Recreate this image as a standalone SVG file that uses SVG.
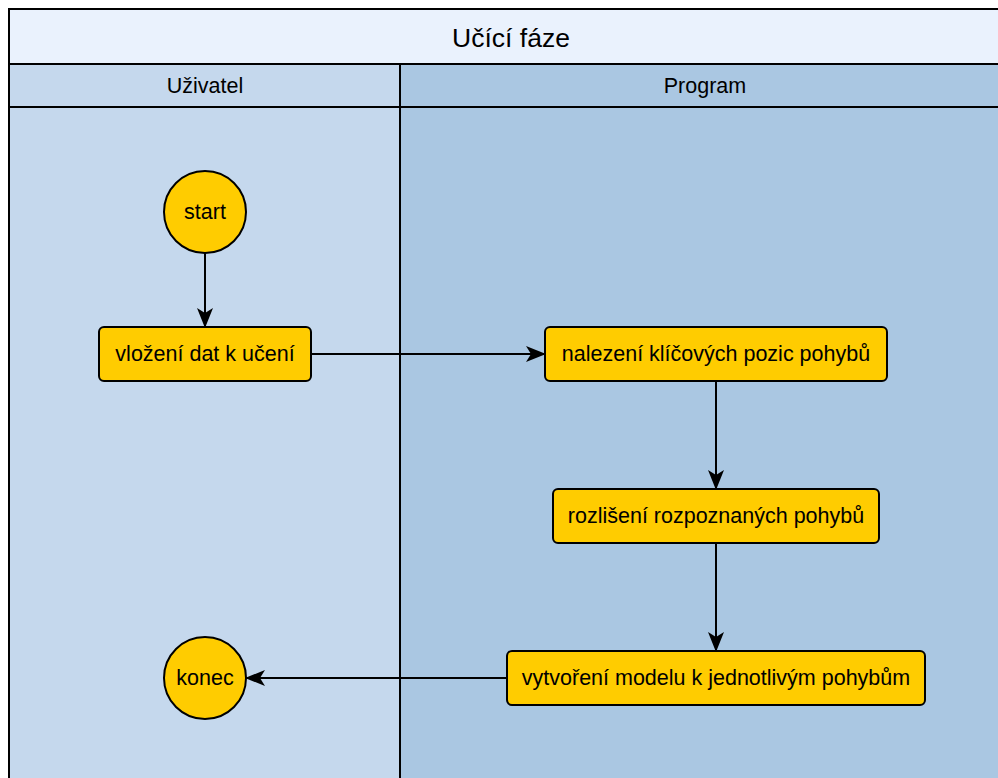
<svg xmlns="http://www.w3.org/2000/svg" width="998" height="778" viewBox="0 0 998 778">
  <style>
    .lane { stroke: #000; stroke-width: 2; }
    .node { fill: #FFCC00; stroke: #000; stroke-width: 2; }
    .lbl { font-family: "Liberation Sans", Arial, sans-serif; fill: #000; text-anchor: middle; dominant-baseline: central; }
    .edge { fill: none; stroke: #000; stroke-width: 2; }
  </style>
  <defs>
    <marker id="arrow" viewBox="0 0 20 16" refX="19" refY="8" markerWidth="20" markerHeight="16" markerUnits="userSpaceOnUse" orient="auto">
      <path d="M0,0 L20,8 L0,16 L5,8 Z" fill="#000"/>
    </marker>
  </defs>
  <rect width="998" height="778" fill="#fff"/>

  <!-- pool and lanes -->
  <g id="pool">
    <rect x="9" y="9" width="1000" height="790" fill="#EAF2FD" class="lane"/>
    <text x="511" y="38" class="lbl" font-size="26.5">Učící fáze</text>
  </g>
  <g id="lane-uzivatel">
    <rect x="9" y="64" width="391" height="730" fill="#C5D8ED" class="lane"/>
    <line x1="9" y1="107" x2="400" y2="107" class="lane"/>
    <text x="205" y="86" class="lbl" font-size="21.5">Uživatel</text>
  </g>
  <g id="lane-program">
    <rect x="400" y="64" width="610" height="730" fill="#AAC7E2" class="lane"/>
    <line x1="400" y1="107" x2="1010" y2="107" class="lane"/>
    <text x="705" y="86" class="lbl" font-size="21.5">Program</text>
  </g>

  <!-- connectors -->
  <g id="edges">
    <path d="M205,253 L205,327" class="edge" marker-end="url(#arrow)"/>
    <path d="M311,354 L545,354" class="edge" marker-end="url(#arrow)"/>
    <path d="M716,381 L716,489" class="edge" marker-end="url(#arrow)"/>
    <path d="M716,543 L716,651" class="edge" marker-end="url(#arrow)"/>
    <path d="M507,678 L246,678" class="edge" marker-end="url(#arrow)"/>
  </g>

  <!-- nodes -->
  <g id="start">
    <circle cx="205" cy="212" r="41" class="node"/>
    <text x="205" y="212" class="lbl" font-size="21.5">start</text>
  </g>
  <g id="vlozeni">
    <rect x="99" y="327" width="212" height="54" rx="5" class="node"/>
    <text x="205" y="354" class="lbl" font-size="21.5">vložení dat k učení</text>
  </g>
  <g id="nalezeni">
    <rect x="545" y="327" width="342" height="54" rx="5" class="node"/>
    <text x="716" y="354" class="lbl" font-size="21.5">nalezení klíčových pozic pohybů</text>
  </g>
  <g id="rozliseni">
    <rect x="553" y="489" width="326" height="54" rx="5" class="node"/>
    <text x="716" y="516" class="lbl" font-size="21.5">rozlišení rozpoznaných pohybů</text>
  </g>
  <g id="vytvoreni">
    <rect x="507" y="651" width="418" height="54" rx="5" class="node"/>
    <text x="716" y="678" class="lbl" font-size="21.5">vytvoření modelu k jednotlivým pohybům</text>
  </g>
  <g id="konec">
    <circle cx="205" cy="678" r="41" class="node"/>
    <text x="205" y="678" class="lbl" font-size="21.5">konec</text>
  </g>
</svg>
